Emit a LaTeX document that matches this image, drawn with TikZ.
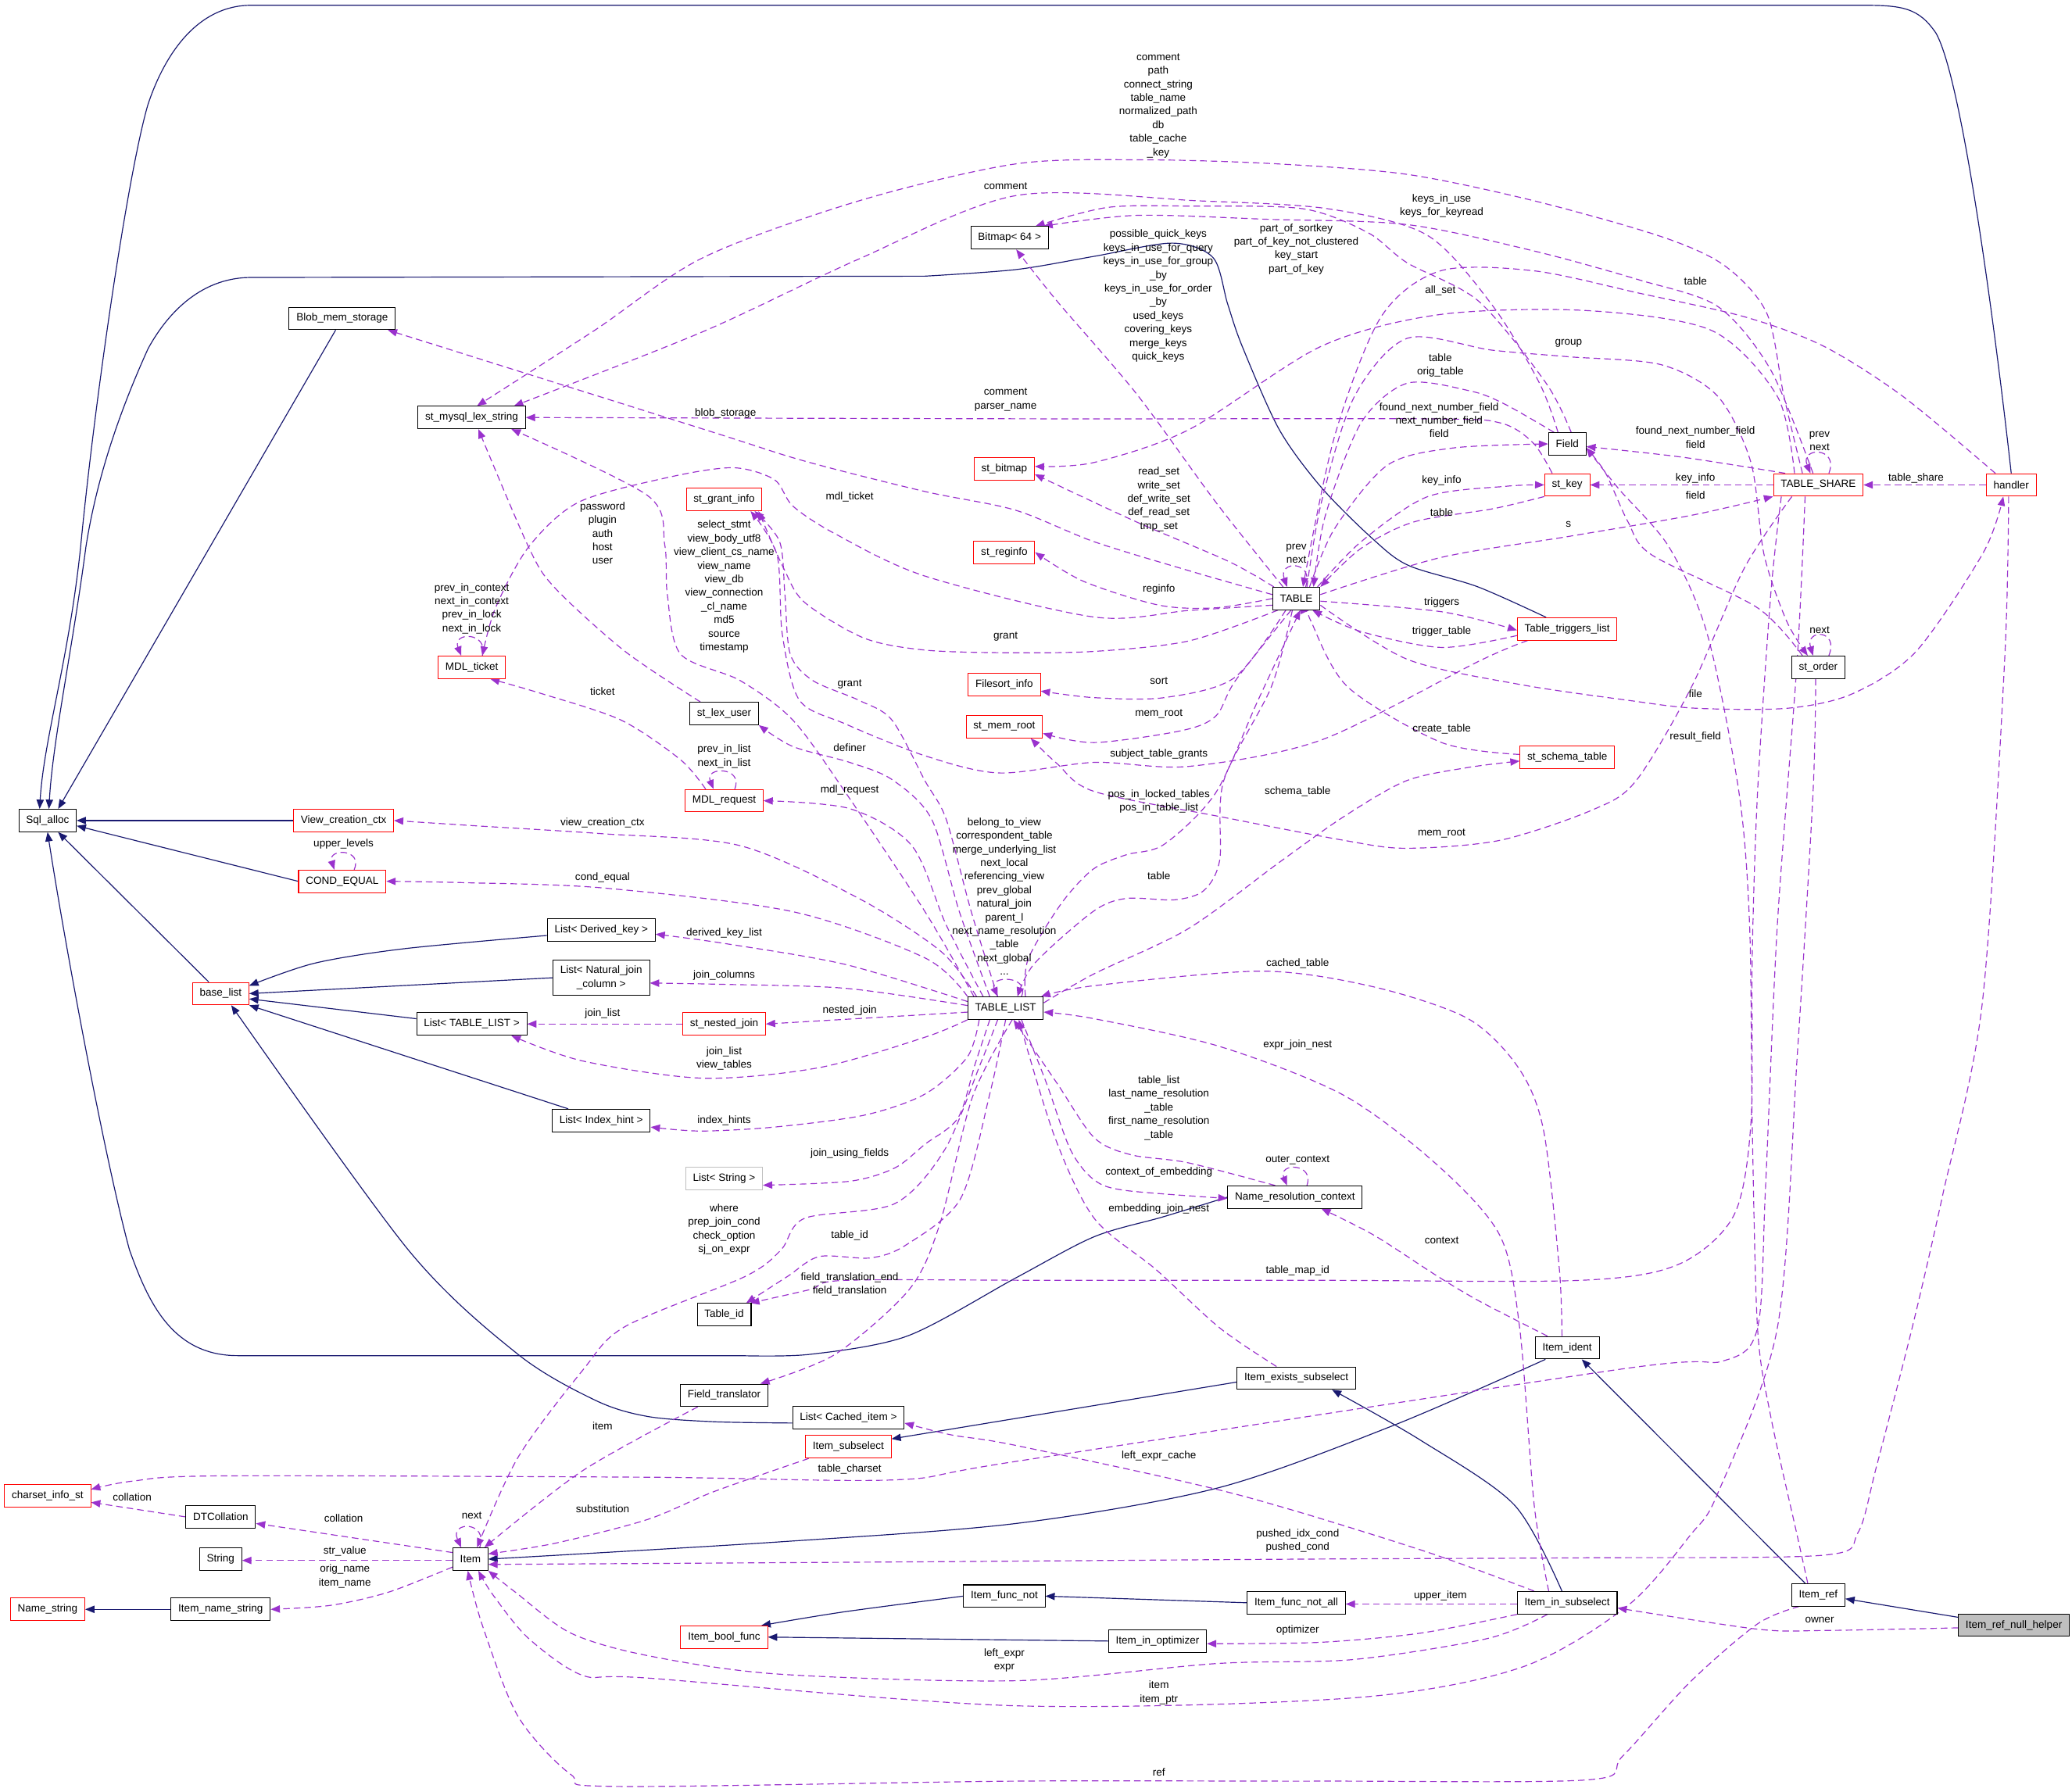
\documentclass[tikz,border=0pt]{standalone}
\usepackage{fontspec}
\setmainfont{Liberation Sans}
\usetikzlibrary{arrows.meta}
\definecolor{navyc}{HTML}{191970}
\definecolor{orch}{HTML}{9A32CD}
\newcommand\dxf{\fontsize{8}{10.3}\selectfont}
\pgfdeclarelayer{bg}
\pgfsetlayers{bg,main}
\begin{document}
\begin{tikzpicture}[x=1pt,y=-1pt,
  box/.style={draw=black, line width=0.6pt, fill=white, font=\dxf, minimum height=17pt, inner xsep=5.5pt, inner ysep=1pt, align=center},
  rbox/.style={box, draw=red},
  gbox/.style={box, draw=black!25},
  inh/.style={draw=navyc, line width=0.7pt, -{Triangle[length=7pt,width=5.5pt]}},
  dep/.style={draw=orch, line width=0.7pt, dash pattern=on 5pt off 3pt, -{Triangle[length=7pt,width=5.5pt]}},
  lb/.style={font=\dxf, align=center, inner sep=0pt, text=black}]
\useasboundingbox (0,0) rectangle (1568,1356);
% ---------------- nodes
\node[box] (Sql) at (36,621) {Sql\_alloc};
\node[box] (Blob) at (259,241) {Blob\_mem\_storage};
\node[box] (lex) at (357,316) {st\_mysql\_lex\_string};
\node[box] (Bitmap) at (764,180) {Bitmap< 64 >};
\node[rbox] (stbitmap) at (760,355) {st\_bitmap};
\node[rbox] (grant) at (548,378) {st\_grant\_info};
\node[rbox] (reginfo) at (760,418) {st\_reginfo};
\node[rbox] (MDLt) at (357,505) {MDL\_ticket};
\node[rbox] (Filesort) at (760,518) {Filesort\_info};
\node[box] (lexuser) at (548,540) {st\_lex\_user};
\node[rbox] (memroot) at (760,550) {st\_mem\_root};
\node[rbox] (MDLr) at (548,606) {MDL\_request};
\node[rbox] (View) at (260,621) {View\_creation\_ctx};
\node[rbox] (COND) at (259,667) {COND\_EQUAL};
\node[box] (LDK) at (455,704) {List< Derived\_key >};
\node[box, minimum height=27pt] (LNJ) at (455,740) {List< Natural\_join\\\_column >};
\node[rbox] (base) at (167,752) {base\_list};
\node[box] (LTL) at (357,775) {List< TABLE\_LIST >};
\node[rbox] (nested) at (548,775) {st\_nested\_join};
\node[box] (TL) at (761,763) {TABLE\_LIST};
\node[box] (LIH) at (455,848) {List< Index\_hint >};
\node[gbox] (LS) at (548,892) {List< String >};
\node[box] (NRC) at (980,906) {Name\_resolution\_context};
\node[box] (Tid) at (548,995) {Table\_id};
\node[box] (Iident) at (1186,1020) {Item\_ident};
\node[box] (Iexists) at (981,1043) {Item\_exists\_subselect};
\node[box] (Ftrans) at (548,1056) {Field\_translator};
\node[box] (LCI) at (642,1073) {List< Cached\_item >};
\node[rbox] (Isub) at (642,1095) {Item\_subselect};
\node[rbox] (charset) at (36,1132) {charset\_info\_st};
\node[box] (DTC) at (167,1148) {DTCollation};
\node[box] (String) at (167,1180) {String};
\node[box] (Item) at (356,1180) {Item};
\node[rbox] (Name) at (36,1218) {Name\_string};
\node[box] (INS) at (167,1218) {Item\_name\_string};
\node[box] (IFN) at (760,1208) {Item\_func\_not};
\node[box] (IFNA) at (981,1213) {Item\_func\_not\_all};
\node[box] (Iopt) at (876,1242) {Item\_in\_optimizer};
\node[box] (Iin) at (1186,1213) {Item\_in\_subselect};
\node[box] (Iref) at (1376,1207) {Item\_ref};
\node[box, fill=black!25] (IRNH) at (1524,1230) {Item\_ref\_null\_helper};
\node[rbox] (IBF) at (548,1239) {Item\_bool\_func};
\node[box] (TABLE) at (981,453) {TABLE};
\node[box] (Field) at (1186,336) {Field};
\node[rbox] (stkey) at (1186,367) {st\_key};
\node[rbox] (TTL) at (1186,476) {Table\_triggers\_list};
\node[box] (storder) at (1376,505) {st\_order};
\node[rbox] (schema) at (1186,573) {st\_schema\_table};
\node[rbox] (TS) at (1376,367) {TABLE\_SHARE};
\node[rbox] (handler) at (1522,367) {handler};
% ---------------- labels
\node[lb] (l1) at (876.5,80) {comment\\path\\connect\_string\\table\_name\\normalized\_path\\db\\table\_cache\\\_key};
\node[lb] (l2) at (761,141) {comment};
\node[lb] (l3) at (876.5,224) {possible\_quick\_keys\\keys\_in\_use\_for\_query\\keys\_in\_use\_for\_group\\\_by\\keys\_in\_use\_for\_order\\\_by\\used\_keys\\covering\_keys\\merge\_keys\\quick\_keys};
\node[lb] (l4) at (1091,156) {keys\_in\_use\\keys\_for\_keyread};
\node[lb] (l5) at (981,188.5) {part\_of\_sortkey\\part\_of\_key\_not\_clustered\\key\_start\\part\_of\_key};
\node[lb] (l6) at (1283,213) {table};
\node[lb] (l7) at (1090,220) {all\_set};
\node[lb] (l8) at (1187,260) {group};
\node[lb] (l9) at (1090,276.5) {table\\orig\_table};
\node[lb] (l10) at (1089,318) {found\_next\_number\_field\\next\_number\_field\\field};
\node[lb] (l11) at (761,302.5) {comment\\parser\_name};
\node[lb] (l12) at (549,313) {blob\_storage};
\node[lb] (l13) at (1283,331) {found\_next\_number\_field\\field};
\node[lb] (l14) at (1377,334) {prev\\next};
\node[lb] (l15) at (1091,364) {key\_info};
\node[lb] (l16) at (1283,362) {key\_info};
\node[lb] (l17) at (1450,362) {table\_share};
\node[lb] (l18) at (1283,375) {field};
\node[lb] (l19) at (643,376) {mdl\_ticket};
\node[lb] (l20) at (456,403.5) {password\\plugin\\auth\\host\\user};
\node[lb] (l21) at (1091,388) {table};
\node[lb] (l22) at (1187,397) {s};
\node[lb] (l23) at (877,378) {read\_set\\write\_set\\def\_write\_set\\def\_read\_set\\tmp\_set};
\node[lb] (l24) at (548,444) {select\_stmt\\view\_body\_utf8\\view\_client\_cs\_name\\view\_name\\view\_db\\view\_connection\\\_cl\_name\\md5\\source\\timestamp};
\node[lb] (l25) at (981,419) {prev\\next};
\node[lb] (l26) at (357,460.5) {prev\_in\_context\\next\_in\_context\\prev\_in\_lock\\next\_in\_lock};
\node[lb] (l27) at (877,446) {reginfo};
\node[lb] (l28) at (1091,456) {triggers};
\node[lb] (l29) at (1377,477) {next};
\node[lb] (l30) at (1091,478) {trigger\_table};
\node[lb] (l31) at (761,482) {grant};
\node[lb] (l32) at (877,515) {sort};
\node[lb] (l33) at (643,518) {grant};
\node[lb] (l34) at (456,523) {ticket};
\node[lb] (l35) at (1283,525) {file};
\node[lb] (l36) at (877,540) {mem\_root};
\node[lb] (l37) at (1091,552) {create\_table};
\node[lb] (l38) at (1283,558) {result\_field};
\node[lb] (l39) at (643,566) {definer};
\node[lb] (l40) at (548,572.5) {prev\_in\_list\\next\_in\_list};
\node[lb] (l41) at (877,571) {subject\_table\_grants};
\node[lb] (l42) at (982,599) {schema\_table};
\node[lb] (l43) at (643,598) {mdl\_request};
\node[lb] (l44) at (877,606.5) {pos\_in\_locked\_tables\\pos\_in\_table\_list};
\node[lb] (l45) at (456,623) {view\_creation\_ctx};
\node[lb] (l46) at (1091,631) {mem\_root};
\node[lb] (l47) at (260,639) {upper\_levels};
\node[lb] (l48) at (760,678.5) {belong\_to\_view\\correspondent\_table\\merge\_underlying\_list\\next\_local\\referencing\_view\\prev\_global\\natural\_join\\parent\_l\\next\_name\_resolution\\\_table\\next\_global\\...};
\node[lb] (l49) at (877,663) {table};
\node[lb] (l50) at (456,664) {cond\_equal};
\node[lb] (l51) at (548,706) {derived\_key\_list};
\node[lb] (l52) at (982,729) {cached\_table};
\node[lb] (l53) at (548,738) {join\_columns};
\node[lb] (l54) at (456,767) {join\_list};
\node[lb] (l55) at (643,765) {nested\_join};
\node[lb] (l56) at (982,791) {expr\_join\_nest};
\node[lb] (l57) at (548,801) {join\_list\\view\_tables};
\node[lb] (l58) at (877,838.5) {table\_list\\last\_name\_resolution\\\_table\\first\_name\_resolution\\\_table};
\node[lb] (l59) at (548,848) {index\_hints};
\node[lb] (l60) at (643,873) {join\_using\_fields};
\node[lb] (l61) at (982,878) {outer\_context};
\node[lb] (l62) at (877,887) {context\_of\_embedding};
\node[lb] (l63) at (548,930.5) {where\\prep\_join\_cond\\check\_option\\sj\_on\_expr};
\node[lb] (l64) at (877,915) {embedding\_join\_nest};
\node[lb] (l65) at (643,935) {table\_id};
\node[lb] (l66) at (1091,939) {context};
\node[lb] (l67) at (982,962) {table\_map\_id};
\node[lb] (l68) at (643,972) {field\_translation\_end\\field\_translation};
\node[lb] (l69) at (456,1079) {item};
\node[lb] (l70) at (877,1102) {left\_expr\_cache};
\node[lb] (l71) at (643,1112) {table\_charset};
\node[lb] (l72) at (100,1133) {collation};
\node[lb] (l73) at (456,1142) {substitution};
\node[lb] (l74) at (260,1149) {collation};
\node[lb] (l75) at (357,1147) {next};
\node[lb] (l76) at (982,1166) {pushed\_idx\_cond\\pushed\_cond};
\node[lb] (l77) at (261,1174) {str\_value};
\node[lb] (l78) at (261,1193) {orig\_name\\item\_name};
\node[lb] (l79) at (1090,1208) {upper\_item};
\node[lb] (l80) at (1377,1226) {owner};
\node[lb] (l81) at (982,1234) {optimizer};
\node[lb] (l82) at (760,1256.5) {left\_expr\\expr};
\node[lb] (l83) at (877,1281) {item\\item\_ptr};
\node[lb] (l84) at (877,1341) {ref};
% ---------------- connectors
\begin{pgfonlayer}{bg}
\fill[white] (0,0) rectangle (1568,1356);
% inheritance
\draw[inh] (handler.north) .. controls (1510,250) and (1485,60) .. (1465,25) .. controls (1452,6) and (1440,4) .. (1410,4) -- (190,4) .. controls (150,4) and (125,40) .. (112,79) .. controls (97,130) and (72,300) .. (61,414) .. controls (52,500) and (33,560) .. ([xshift=-6]Sql.north);
\draw[inh] plot[smooth] coordinates {([xshift=-16]TTL.north) (1118,444) (1066,428) (1039,408) (1000,369) (968,325) (940,262) (929,230) (918,195) (887,184) (828,194) (769,204) (700,209)} -- (190,210) .. controls (150,210) and (125,240) .. (112,264) .. controls (98,295) and (75,350) .. (65,414) .. controls (55,490) and (40,560) .. ([xshift=1]Sql.north);
\draw[inh] ([xshift=-5]Blob.south) -- ([xshift=8]Sql.north);
\draw[inh] (View.west) -- (Sql.east);
\draw[inh] (COND.west) -- ([yshift=-4]Sql.east);
\draw[inh] ([xshift=-9]base.north) -- ([xshift=8]Sql.south);
\draw[inh] plot[smooth] coordinates {(NRC.west) (880,921) (828,936) (769,967) (687,1011) (613,1025) (560,1026)} -- (180,1026) .. controls (130,1026) and (112,985) .. (98,946) .. controls (80,880) and (50,720) .. (Sql.south);
\draw[inh] plot[smooth] coordinates {([yshift=-4]LDK.west) (306,718) (238,729) ([yshift=6]base.east)};
\draw[inh] (LNJ.west) -- (base.east);
\draw[inh] ([yshift=4]LTL.west) -- ([yshift=-4]base.east);
\draw[inh] ([xshift=-25]LIH.north) -- (base.south east);
\draw[inh] plot[smooth] coordinates {([yshift=-4]LCI.west) (540,1076) (490,1072) (451,1060) (392,1025) (309,946) ([xshift=8]base.south)};
\draw[inh] (INS.west) -- (Name.east);
\draw[inh] plot[smooth] coordinates {(IFN.west) (638,1220) ([xshift=-5]IBF.north east)};
\draw[inh] (Iopt.west) -- (IBF.east);
\draw[inh] (IFNA.west) -- (IFN.east);
\draw[inh] plot[smooth] coordinates {([xshift=8]Iident.south west) (1054,1079) (922,1126) (769,1153) (589,1167) (Item.east)};
\draw[inh] ([yshift=-3]Iexists.west) -- ([yshift=6]Isub.east);
\draw[inh] plot[smooth] coordinates {([xshift=-4]Iin.north) (1146,1139) (1075,1090) ([xshift=27]Iexists.south)};
\draw[inh] ([xshift=-10]Iref.north) -- ([xshift=11]Iident.south);
\draw[inh] ([yshift=6]IRNH.west) -- ([yshift=-3]Iref.east);
% dependencies
\draw[dep] plot[smooth] coordinates {([xshift=-12]TS.north) (1350,300) (1337,237) (1305,201) (1257,179) (1161,152) (1065,132) (966,124) (868,121) (769,124) (650,152) (532,195) (450,250) ([xshift=4]lex.north)};
\draw[dep] plot[smooth] coordinates {([xshift=-7]Field.north) (1165,290) (1130,232) (1080,178) (1005,158) (907,152) (769,148) (650,196) (532,251) ([xshift=32]lex.north)};
\draw[dep] plot[smooth] coordinates {([xshift=6]stkey.north west) (1160,335) (1135,320) (1080,317) (800,317) (lex.east)};
\draw[dep] plot[smooth] coordinates {([xshift=-18]lexuser.north) (473,493) (420,445) (400,414) ([xshift=5]lex.south)};
\draw[dep] plot[smooth] coordinates {([xshift=-24]TL.north) (700,690) (640,600) (600,545) (560,515) (515,495) (505,450) (503,412) (490,375) ([xshift=30]lex.south)};
\draw[dep] plot[smooth] coordinates {([yshift=3]TABLE.west) (900,432) (828,410) (768,386) (700,372) (609,349) (536,326) ([xshift=-6]Blob.south east)};
\draw[dep] plot[smooth] coordinates {([xshift=-10]TABLE.north) (920,380) (860,298) (800,228) ([xshift=5]Bitmap.south)};
\draw[dep] plot[smooth] coordinates {([xshift=-4]TS.north) (1340,280) (1300,232) (1241,212) (1161,190) (1065,170) (960,166) (860,163) ([xshift=-4]Bitmap.north east)};
\draw[dep] plot[smooth] coordinates {([xshift=-12]handler.north) (1440,300) (1380,262) (1321,240) (1241,222) (1161,205) (1090,205) (1045,240) (1010,330) ([xshift=5]TABLE.north)};
\draw[dep] plot[smooth] coordinates {([xshift=3]Field.north) (1170,290) (1119,228) (1065,199) (1035,176) (986,158) (900,156) (838,157) ([xshift=-10]Bitmap.north east)};
\draw[dep] plot[smooth] coordinates {([xshift=-18]TS.north) (1345,300) (1295,250) (1200,235) (1090,238) (1000,262) (900,325) (828,350) ([yshift=2]stbitmap.east)};
\draw[dep] plot[smooth] coordinates {([xshift=-17]TABLE.north) (930,425) (860,395) ([yshift=-4]stbitmap.east)};
\draw[dep] plot[smooth] coordinates {(TABLE.west) (920,460) (877,458) (820,440) (reginfo.east)};
\draw[dep] plot[smooth] coordinates {([yshift=-5]TABLE.west) (900,462) (828,467) (700,436) (632,404) (600,383) (586,363) (555,354) (507,361) (438,380) (400,414) (375,460) ([xshift=8]MDLt.north)};
\draw[dep] plot[smooth] coordinates {([xshift=-14]TABLE.south) (900,485) (828,493) (761,494) (700,492) (654,483) (609,456) (593,430) ([xshift=26]grant.south)};
\draw[dep] plot[smooth] coordinates {([xshift=-8]TABLE.south) (934,513) (881,528) (828,528) ([yshift=-5]Filesort.east)};
\draw[dep] plot[smooth] coordinates {([xshift=-4]TABLE.south) (935,515) (920,542) (894,553) (828,562) ([yshift=-5]memroot.east)};
\draw[dep] plot[smooth] coordinates {([xshift=-30]TTL.south) (1120,500) (1000,560) (900,580) (828,577) (756,585) (700,572) (640,548) (605,530) (592,480) (588,420) ([xshift=20]grant.south)};
\draw[dep] plot[smooth] coordinates {([xshift=-6]TL.north) (735,690) (716,620) (700,591) (675,545) (650,530) (615,515) (598,495) (594,450) (590,410) ([xshift=23]grant.south)};
\draw[dep] plot[smooth] coordinates {([xshift=-12]TL.north) (726,690) (705,620) (675,590) (643,577) (600,565) (lexuser.south east)};
\draw[dep] plot[smooth] coordinates {([xshift=-17]TL.north) (716,700) (690,640) (643,612) (MDLr.east)};
\draw[dep] plot[smooth] coordinates {([xshift=-22]TL.north) (712,720) (650,680) (560,640) (456,631) (360,625) (View.east)};
\draw[dep] plot[smooth] coordinates {(TL.north west) (700,725) (600,690) (456,672) (350,668) (COND.east)};
\draw[dep] plot[smooth] coordinates {([yshift=5]TL.west) (640,730) (548,714) ([yshift=-3]LDK.east)};
\draw[dep] plot[smooth] coordinates {([yshift=2]TL.west) (640,748) (548,745) ([yshift=-4]LNJ.east)};
\draw[dep] ([yshift=-3]TL.west) -- (nested.east);
\draw[dep] (nested.west) -- (LTL.east);
\draw[dep] plot[smooth] coordinates {(TL.south west) (700,785) (620,808) (532,816) (441,803) ([xshift=30]LTL.south)};
\draw[dep] plot[smooth] coordinates {([xshift=-20]TL.south) (732,800) (700,828) (654,844) (586,853) (530,856) ([yshift=-5]LIH.east)};
\draw[dep] plot[smooth] coordinates {([xshift=-12]TL.south) (738,805) (725,846) (700,866) (677,884) (643,894) ([yshift=-5]LS.east)};
\draw[dep] plot[smooth] coordinates {([xshift=-6]TL.south) (742,805) (715,870) (677,911) (609,922) (591,946) (564,966) (473,1004) (441,1037) (392,1103) ([xshift=5]Item.north)};
\draw[dep] plot[smooth] coordinates {(TL.south) (749,828) (727,907) (686,942) (659,952) (620,951) (596,966) ([xshift=-4]Tid.north east)};
\draw[dep] plot[smooth] coordinates {([xshift=5]TL.south) (736,830) (711,927) (688,976) (632,1025) ([xshift=-6]Ftrans.north east)};
\draw[dep] plot[smooth] coordinates {([xshift=-28]TS.south) (1340,450) (1330,600) (1326,723) (1325,850) (1312,920) (1270,957) (1196,969) (1000,969) (800,969) (640,969) (613,976) ([xshift=-1]Tid.north east)};
\draw[dep] plot[smooth] coordinates {([xshift=-4]Iident.north) (1180,960) (1168,855) (1149,808) (1111,771) (1040,747) (955,735) (828,746) ([xshift=-2]TL.north east)};
\draw[dep] plot[smooth] coordinates {([xshift=-14]Iin.north) (1161,1139) (1150,1005) (1135,935) (1088,882) (1017,829) (923,792) (828,771) ([yshift=-3]TL.east)};
\draw[dep] plot[smooth] coordinates {([xshift=-15]NRC.north) (899,880) (856,874) (828,861) (800,820) ([xshift=6]TL.south)};
\draw[dep] plot[smooth] coordinates {([xshift=12]TL.south) (792,820) (810,870) (828,893) (852,901) ([yshift=-1]NRC.west)};
\draw[dep] plot[smooth] coordinates {([xshift=-15]Iexists.north) (923,1005) (875,961) (828,922) (798,860) ([xshift=10]TL.south)};
\draw[dep] plot[smooth] coordinates {([xshift=-15]Iident.north) (1120,985) (1088,966) (1040,935) ([xshift=20]NRC.south)};
\draw[dep] plot[smooth] coordinates {([xshift=-25]Iin.north) (1075,1173) (932,1130) (769,1094) (720,1086) ([yshift=-4]LCI.east)};
\draw[dep] plot[smooth] coordinates {([xshift=-10]TS.south) (1360,500) (1345,700) (1336,900) (1330,1005) (1304,1030) (1228,1036) (769,1106) (677,1120) (490,1118) (167,1117) (100,1121) ([yshift=-4]charset.north east)};
\draw[dep] (DTC.west) -- ([yshift=-5]charset.east);
\draw[dep] ([yshift=5]Item.west) -- ([yshift=-5]DTC.east);
\draw[dep] ([yshift=-1]Item.west) -- ([yshift=-1]String.east);
\draw[dep] plot[smooth] coordinates {([yshift=-6]Item.west) (294,1205) (250,1215) (INS.east)};
\draw[dep] ([xshift=7]Item.north) .. controls (370,1151) and (340,1151) .. ([xshift=-7]Item.north);
\draw[dep] plot[smooth] coordinates {([xshift=-20]Ftrans.south) (441,1113) ([xshift=-3]Item.north east)};
\draw[dep] plot[smooth] coordinates {([xshift=-30]Isub.south) (540,1129) (490,1150) (420,1168) ([yshift=4]Item.east)};
\draw[dep] plot[smooth] coordinates {([xshift=-2]handler.south) (1517,500) (1500,760) (1470,905) (1447,1005) (1420,1110) (1406,1160) (1380,1177) (1200,1179) (982,1180) (700,1182) ([yshift=-4]Item.east)};
\draw[dep] plot[smooth] coordinates {([xshift=-2]storder.south) (1372,600) (1360,800) (1345,1005) (1300,1130) (1279,1162) (1232,1215) (1151,1262) (1024,1285) (769,1291) (490,1270) (441,1268) (400,1240) (373,1207) ([xshift=6]Item.south)};
\draw[dep] plot[smooth] coordinates {([xshift=-15]Iin.south) (1126,1240) (1024,1256) (921,1259) (769,1272) (589,1267) (490,1253) (432,1236) (390,1205) (Item.south east)};
\draw[dep] plot[smooth] coordinates {([xshift=6]Iref.south west) (1330,1229) (1279,1273) (1228,1329) (1202,1347) (1000,1348) (769,1348) (466,1352) (432,1343) (392,1299) (365,1230) ([xshift=-2]Item.south)};
\draw[dep] ([yshift=-1]Iin.west) -- ([yshift=-1]IFNA.east);
\draw[dep] plot[smooth] coordinates {(Iin.south west) (1075,1236) (998,1243) ([yshift=-2]Iopt.east)};
\draw[dep] plot[smooth] coordinates {([yshift=-2]IRNH.west) (1380,1234) (1330,1233) ([yshift=-4]Iin.east)};
\draw[dep] plot[smooth] coordinates {([xshift=-8]Iref.north) (1360,1162) (1340,1072) (1330,1005) (1326,850) (1324,700) (1316,600) (1292,480) (1263,414) (1225,370) ([yshift=-3]Field.east)};
\draw[dep] plot[smooth] coordinates {([xshift=-12]storder.north) (1330,460) (1250,420) (1232,395) (1215,358) ([yshift=-3]Field.east)};
\draw[dep] ([xshift=7]TABLE.north) .. controls (995,424) and (967,424) .. ([xshift=-7]TABLE.north);
\draw[dep] ([xshift=8]TS.north) .. controls (1392,338) and (1362,338) .. ([xshift=-6]TS.north);
\draw[dep] ([xshift=8]storder.north) .. controls (1392,476) and (1366,476) .. ([xshift=-4]storder.north);
\draw[dep] ([xshift=8]MDLt.north) .. controls (370,478) and (342,478) .. ([xshift=-8]MDLt.north);
\draw[dep] ([xshift=8]MDLr.north) .. controls (563,580) and (533,580) .. ([xshift=-8]MDLr.north);
\draw[dep] ([xshift=9]COND.north) .. controls (275,642) and (248,642) .. ([xshift=-6]COND.north);
\draw[dep] ([xshift=9]NRC.north) .. controls (995,880) and (967,880) .. ([xshift=-6]NRC.north);
\draw[dep] ([xshift=12]TL.north) .. controls (780,738) and (748,738) .. ([xshift=-6]TL.north);
\draw[dep] plot[smooth] coordinates {([xshift=-14]MDLr.north) (515,575) (470,545) (410,525) ([xshift=14]MDLt.south)};
\draw[dep] plot[smooth] coordinates {([xshift=-3]TABLE.south) (962,520) (926,591) (923,651) (911,674) (889,681) (852,680) (827,690) (783,729) ([xshift=9]TL.north)};
\draw[dep] plot[smooth] coordinates {([xshift=15]TL.north) (778,726) (803,684) (827,658) (852,647) (881,639) (920,600) (952,530) ([xshift=3]TABLE.south)};
\draw[dep] plot[smooth] coordinates {([yshift=3]TABLE.east) (1090,422) (1187,406) (1280,390) (TS.south west)};
\draw[dep] plot[smooth] coordinates {([xshift=10]TABLE.north) (1010,400) (1050,352) (1100,339) (Field.west)};
\draw[dep] plot[smooth] coordinates {([xshift=16]TABLE.north) (1030,410) (1080,376) (1140,368) (stkey.west)};
\draw[dep] plot[smooth] coordinates {(stkey.south west) (1130,385) (1070,395) (1030,415) (TABLE.north east)};
\draw[dep] plot[smooth] coordinates {([yshift=-2]TABLE.east) (1091,463) ([yshift=-1]TTL.west)};
\draw[dep] plot[smooth] coordinates {([yshift=-5]TTL.west) (1091,490) (1030,478) ([xshift=-6]TABLE.south east)};
\draw[dep] plot[smooth] coordinates {([yshift=2]schema.west) (1091,562) (1020,520) (992,470) ([xshift=10]TABLE.south)};
\draw[dep] plot[smooth] coordinates {([yshift=4]TL.east) (828,737) (899,703) (969,652) (1017,618) (1064,591) (1110,581) ([yshift=-3]schema.west)};
\draw[dep] plot[smooth] coordinates {([xshift=-20]TS.south) (1320,430) (1280,520) (1238,591) (1205,613) (1135,636) (1064,642) (1017,636) (923,618) (828,599) (800,578) ([xshift=20]memroot.south)};
\draw[dep] plot[smooth] coordinates {([xshift=8]TABLE.north) (1000,380) (1025,300) (1065,256) (1129,265) (1187,270) (1257,276) (1300,300) (1325,350) (1335,420) (1352,470) ([xshift=-8]storder.north)};
\draw[dep] plot[smooth] coordinates {([yshift=-5]TABLE.east) (1065,499) (1150,518) (1232,530) (1283,536) (1353,536) (1402,525) (1450,493) (1501,418) ([xshift=-6]handler.south)};
\draw[dep] (handler.west) -- (TS.east);
\draw[dep] (TS.west) -- (stkey.east);
\draw[dep] plot[smooth] coordinates {([xshift=-25]TS.north) (1273,346) ([yshift=-2]Field.east)};
\draw[dep] plot[smooth] coordinates {([xshift=-10]Field.north) (1139,306) (1113,296) (1065,290) (1030,320) (1003,390) ([xshift=13]TABLE.north)};
\end{pgfonlayer}
\end{tikzpicture}
\end{document}
